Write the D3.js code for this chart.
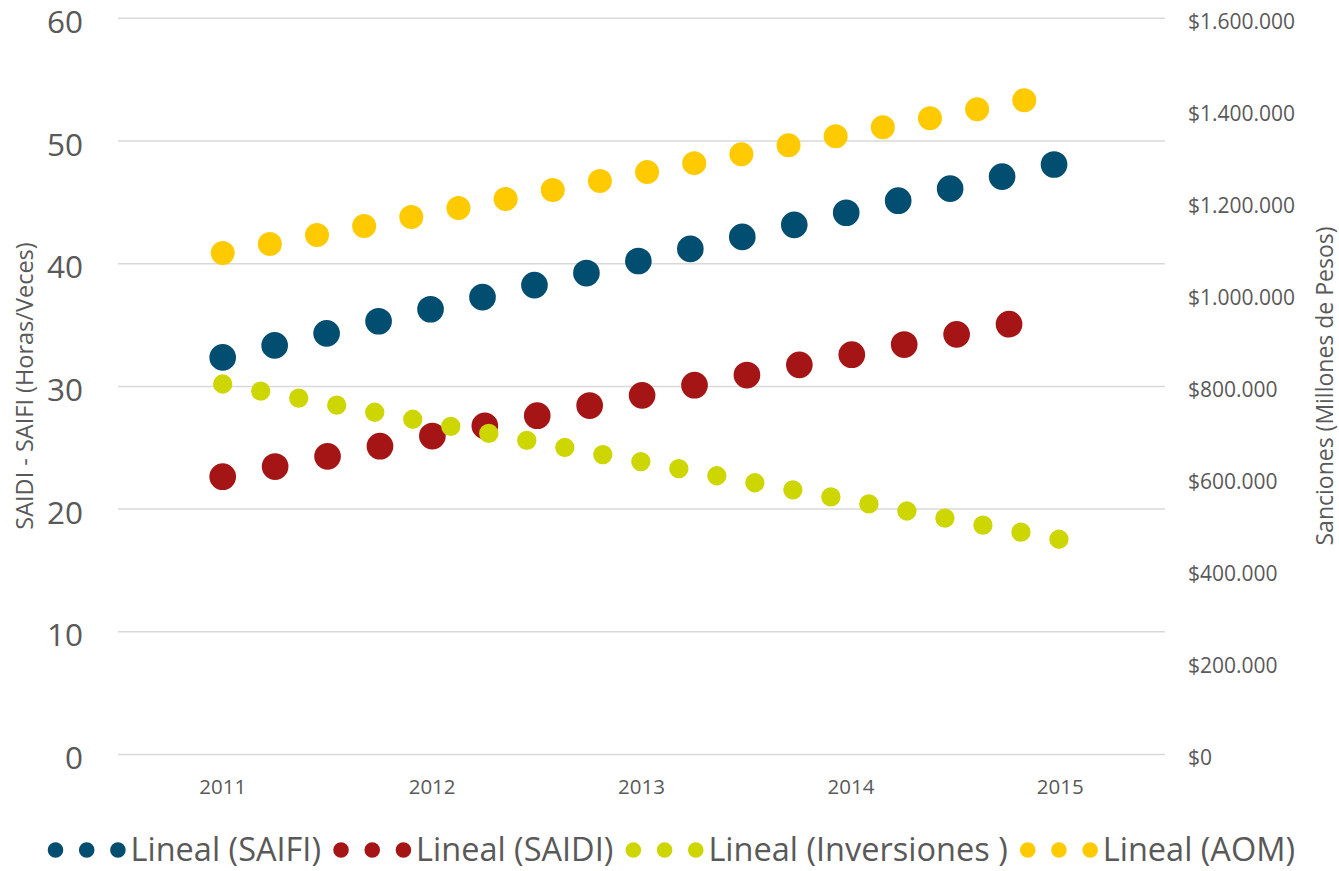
<!DOCTYPE html>
<html>
<head>
<meta charset="utf-8">
<script src="https://cdn.jsdelivr.net/npm/d3@7/dist/d3.min.js"></script>
<style>
    body { margin: 0; background: #fff; }
    svg text { font-family: "Open Sans", sans-serif; fill: #595959; }
</style>
</head>
<body>
<div class="data_figure"></div>
<script>
// chart data
const years = ["2011", "2012", "2013", "2014", "2015"];
const seriesNames = ["Lineal (SAIFI)", "Lineal (SAIDI)", "Lineal (Inversiones )", "Lineal (AOM)"];
const seriesAxis = ["left", "left", "right", "right"];
// linear trend value at the first and the last year
const trendFrom = [32.36, 22.64, 805200, 1090000];
const trendTo = [48.2, 35.88, 467300, 1436800];
const leftTicks = [0, 10, 20, 30, 40, 50, 60];
const rightTicks = [0, 200000, 400000, 600000, 800000, 1000000, 1200000, 1400000, 1600000];

const colors = ["#024e70", "#a51515", "#cdd600", "#ffca00"];
const dotW = [26.67, 26.7, 19.33, 24];

const width = 1339;
const height = 871;

const plot = {
    left: 118,
    right: 1165,
    top: 18.3,
    bottom: 754.5,
}

let svg = d3.select(".data_figure")
            .append("svg")
            .attr("width", width)
            .attr("height", height);

const xScale = d3.scaleBand()
        .domain(years)
        .range([plot.left, plot.right]);

const yLeft = d3.scaleLinear()
        .domain([0, 60])
        .range([plot.bottom, plot.top]);

const yRight = d3.scaleLinear()
        .domain([0, 1600000])
        .range([plot.bottom, plot.top]);

const xc = (d) => xScale(d) + xScale.bandwidth() / 2;

// gridlines
svg.append("g")
    .selectAll("line")
    .data(leftTicks)
    .enter()
    .append("line")
    .attr("x1", plot.left)
    .attr("x2", plot.right)
    .attr("y1", (d) => yLeft(d))
    .attr("y2", (d) => yLeft(d))
    .attr("stroke", "#d9d9d9")
    .attr("stroke-width", 1.5);

// left axis
let gl = svg.append("g")
    .attr("transform", "translate(83, 0)")
    .call(d3.axisLeft(yLeft).tickValues(leftTicks).tickSize(0).tickPadding(0));
gl.select(".domain").remove();
gl.selectAll("text")
    .attr("dy", "0.45em")
    .style("font-size", "31.5px")
    .style("font-family", "'Open Sans', sans-serif")
    .attr("fill", "#595959");

// right axis
const moneyFormat = (d) => "$" + d3.format(",")(d).replace(/,/g, ".");
let gr = svg.append("g")
    .attr("transform", "translate(1188, 0)")
    .call(d3.axisRight(yRight).tickValues(rightTicks).tickFormat(moneyFormat).tickSize(0).tickPadding(0));
gr.select(".domain").remove();
gr.selectAll("text")
    .attr("dy", "0.48em")
    .style("font-size", "21px")
    .style("font-family", "'Open Sans', sans-serif")
    .attr("fill", "#595959");

// x axis
let gx = svg.append("g")
    .attr("transform", "translate(0, 794)")
    .call(d3.axisBottom(xScale).tickSize(0).tickPadding(0));
gx.select(".domain").remove();
gx.selectAll("text")
    .attr("y", 0)
    .attr("dy", 0)
    .style("font-size", "20.5px")
    .style("font-family", "'Open Sans', sans-serif")
    .attr("fill", "#595959");

// axis titles
svg.append("text")
    .text("SAIDI - SAIFI (Horas/Veces)")
    .attr("transform", "translate(33, 386) rotate(-90)")
    .attr("text-anchor", "middle")
    .style("font-size", "23.5px");

svg.append("text")
    .text("Sanciones (Millones de Pesos)")
    .attr("transform", "translate(1333, 386) rotate(-90)")
    .attr("text-anchor", "middle")
    .style("font-size", "23px");

// trend lines, round dots
const lineData = seriesNames.map((name, i) => {
    const y = seriesAxis[i] === "left" ? yLeft : yRight;
    return {
        name: name,
        pts: [[xc(years[0]), y(trendFrom[i])], [xc(years[years.length - 1]), y(trendTo[i])]],
        color: colors[i],
        w: dotW[i],
    };
});

svg.selectAll(".trend")
    .data(lineData)
    .enter()
    .append("path")
    .attr("class", "trend")
    .attr("d", (d) => d3.line()(d.pts))
    .attr("fill", "none")
    .attr("stroke", (d) => d.color)
    .attr("stroke-width", (d) => d.w)
    .attr("stroke-linecap", "round")
    .attr("stroke-dasharray", (d) => "0, " + (2 * d.w));

// legend
const legW = 15.6;
const legY = 850;
let legendSVG = svg.append("g").attr("id", "legend");
let lx = 55.5;
lineData.forEach((d) => {
    legendSVG.append("line")
        .attr("x1", lx)
        .attr("x2", lx + 4 * legW + 0.5)
        .attr("y1", legY)
        .attr("y2", legY)
        .attr("stroke", d.color)
        .attr("stroke-width", legW)
        .attr("stroke-linecap", "round")
        .attr("stroke-dasharray", "0, " + (2 * legW));
    let t = legendSVG.append("text")
        .text(d.name)
        .attr("x", lx + 75)
        .attr("y", legY + 11)
        .style("font-size", "32.5px");
    lx = lx + 75 + t.node().getComputedTextLength() + 20;
});
</script>
</body>
</html>
